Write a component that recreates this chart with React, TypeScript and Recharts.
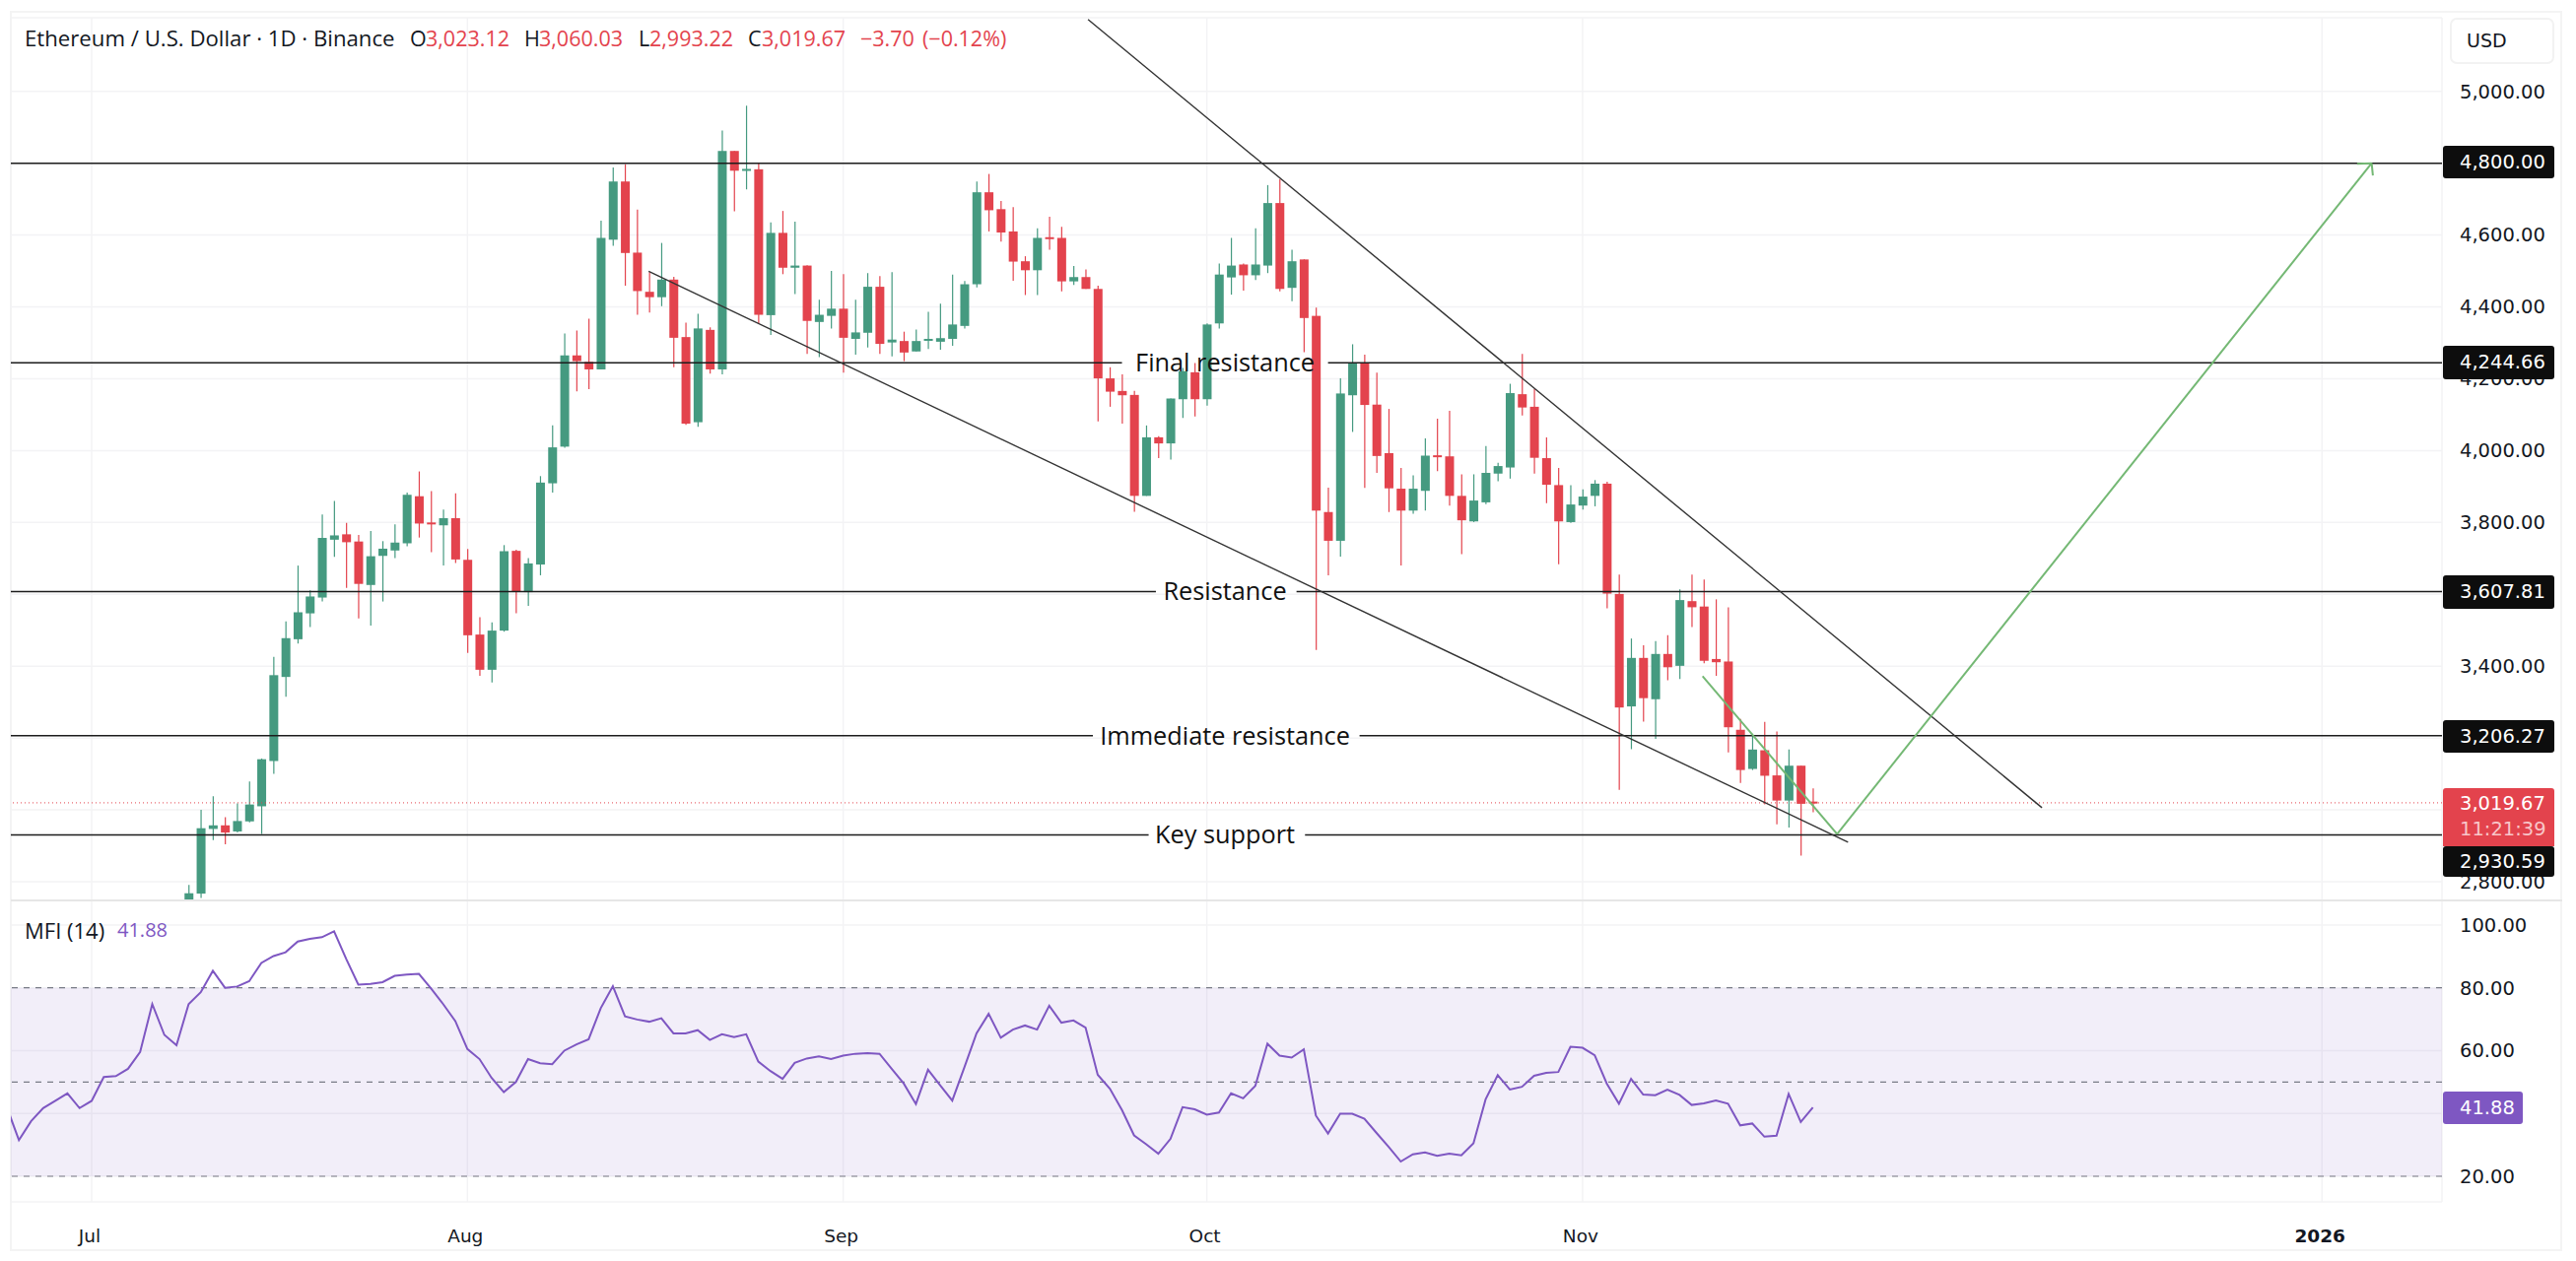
import {
  Bar,
  CartesianGrid,
  ComposedChart,
  Line,
  ReferenceArea,
  ReferenceDot,
  ReferenceLine,
  XAxis,
  YAxis,
} from "recharts";

// days are counted from Jul 1, one unit is one daily candle
const firstCandleDay = 8;
const opens = [
  2749, 2767, 2947, 2957, 2940, 2968, 3010, 3136, 3370, 3475, 3547, 3591, 3752, 3767, 3747, 3626, 3707, 3722, 3742, 3873,
  3800, 3792, 3812, 3696, 3488, 3390, 3499, 3721, 3606, 3683, 3909, 4011, 4265, 4247, 4226, 4587, 4749, 4551, 4442, 4427,
  4476, 4316, 4079, 4336, 4226, 4834, 4780, 4783, 4377, 4606, 4509, 4515, 4358, 4375, 4395, 4311, 4328, 4456, 4301, 4305,
  4276, 4307, 4303, 4311, 4347, 4463, 4719, 4672, 4610, 4527, 4502, 4594, 4592, 4471, 4483, 4450, 4201, 4166, 4155, 3874,
  4037, 4020, 4143, 4218, 4143, 4354, 4482, 4518, 4488, 4515, 4689, 4453, 4532, 4375, 3829, 3749, 4154, 4244, 4128, 3993,
  3894, 3833, 3888, 3987, 3984, 3874, 3803, 3856, 3936, 3953, 4157, 4122, 3979, 3904, 3801, 3847, 3874, 3908, 3601, 3288,
  3423, 3308, 3434, 3401, 3581, 3566, 3420, 3413, 3223, 3114, 3166, 3096, 3026, 3123, 3023.12,
];
const highs = [
  2791, 3000, 3038, 2980, 3018, 3079, 3143, 3426, 3525, 3680, 3611, 3822, 3860, 3799, 3765, 3776, 3748, 3795, 3883, 3942,
  3887, 3836, 3881, 3726, 3536, 3522, 3737, 3724, 3701, 3929, 4070, 4326, 4334, 4367, 4640, 4788, 4797, 4671, 4497, 4578,
  4484, 4356, 4381, 4343, 4891, 4834, 4960, 4802, 4635, 4667, 4637, 4516, 4420, 4500, 4491, 4420, 4494, 4486, 4497, 4331,
  4337, 4386, 4409, 4490, 4472, 4749, 4770, 4695, 4678, 4541, 4619, 4651, 4623, 4514, 4504, 4459, 4232, 4212, 4166, 4070,
  4040, 4145, 4230, 4244, 4354, 4521, 4592, 4521, 4619, 4739, 4756, 4559, 4532, 4398, 3897, 4201, 4296, 4267, 4217, 4116,
  3952, 3931, 4034, 4089, 4111, 3934, 3934, 4013, 3966, 4186, 4269, 4171, 4037, 3952, 3904, 3892, 3918, 3913, 3655, 3477,
  3458, 3470, 3486, 3614, 3655, 3641, 3586, 3564, 3253, 3212, 3245, 3218, 3168, 3123, 3060.03,
];
const lows = [
  2748, 2755, 2916, 2904, 2937, 2965, 2933, 3100, 3315, 3463, 3509, 3580, 3704, 3618, 3533, 3513, 3580, 3701, 3734, 3758,
  3717, 3680, 3687, 3437, 3373, 3355, 3496, 3547, 3568, 3653, 3883, 4008, 4165, 4171, 4226, 4570, 4459, 4378, 4384, 4402,
  4232, 4072, 4066, 4214, 4212, 4666, 4727, 4354, 4322, 4491, 4436, 4269, 4260, 4340, 4217, 4267, 4287, 4269, 4262, 4249,
  4276, 4283, 4281, 4292, 4340, 4454, 4610, 4582, 4473, 4433, 4433, 4559, 4443, 4461, 4450, 4081, 4122, 4075, 3830, 3874,
  3979, 3975, 4091, 4095, 4125, 4340, 4434, 4445, 4475, 4494, 4443, 4416, 4274, 3445, 3653, 3705, 4052, 3896, 3938, 3829,
  3680, 3824, 3833, 3943, 3847, 3712, 3801, 3851, 3915, 3922, 4098, 3936, 3854, 3684, 3799, 3836, 3845, 3561, 3056, 3169,
  3246, 3198, 3361, 3364, 3509, 3408, 3373, 3160, 3075, 3111, 3015, 2960, 2951, 2873, 2993.22,
];
const closes = [
  2768, 2949, 2957, 2937, 2969, 3015, 3141, 3375, 3478, 3550, 3594, 3757, 3764, 3745, 3629, 3706, 3727, 3744, 3877, 3797,
  3797, 3812, 3697, 3486, 3390, 3499, 3720, 3607, 3686, 3911, 4009, 4265, 4249, 4226, 4592, 4749, 4550, 4444, 4427, 4476,
  4314, 4075, 4340, 4226, 4834, 4779, 4784, 4378, 4606, 4509, 4515, 4361, 4378, 4395, 4314, 4329, 4456, 4297, 4309, 4273,
  4305, 4311, 4313, 4351, 4463, 4719, 4669, 4607, 4526, 4502, 4592, 4590, 4471, 4483, 4450, 4201, 4164, 4154, 3874, 4037,
  4020, 4145, 4221, 4143, 4351, 4490, 4515, 4488, 4518, 4689, 4450, 4527, 4369, 3833, 3749, 4159, 4244, 4127, 3985, 3895,
  3833, 3894, 3986, 3983, 3874, 3806, 3861, 3938, 3957, 4160, 4120, 3980, 3905, 3803, 3850, 3872, 3908, 3602, 3285, 3423,
  3311, 3434, 3397, 3584, 3564, 3415, 3411, 3230, 3111, 3168, 3095, 3026, 3123, 3017, 3019.67,
];

const firstMfiDay = -7;
const mfiValues = [
  42, 31.5, 37.5, 41.7, 44, 46.4, 41.7, 44, 51.6, 51.9, 54.2, 59.6, 74.8, 65, 61.7, 74.8, 78.6, 85.4, 80, 80.4, 82.1, 87.9,
  90.1, 91.3, 94.7, 95.6, 96.1, 98, 89.2, 81, 81.2, 81.8, 83.8, 84.2, 84.4, 79.8, 74.8, 69.4, 60.5, 57.3, 51.3, 46.8, 50,
  57.3, 56, 55.7, 60, 62, 63.6, 73.5, 80.5, 70.9, 69.9, 69.2, 70.3, 65.5, 65.5, 66.5, 63.4, 65.2, 64.3, 65.2, 56.5, 53.5,
  51, 56.1, 57.5, 58.2, 57.3, 58.4, 59, 59.2, 59, 54.2, 49.5, 43, 53.9, 49, 44.1, 54.7, 65.5, 71.7, 64.1, 66.7, 68, 66.7,
  74.3, 68.9, 69.6, 67.3, 52.3, 47.9, 41.1, 33, 30.2, 27.2, 31.9, 42, 41.3, 39.6, 40.3, 46.4, 44.8, 48.8, 62.2, 58.4, 57.8,
  60.4, 39.3, 33.6, 39.9, 39.9, 38.3, 33.8, 29.4, 24.7, 27, 27.6, 26.5, 27.2, 26.7, 30.5, 44.5, 52.2, 47.6, 48.5, 52, 52.9,
  53.2, 61.2, 60.9, 58.5, 49.5, 43.1, 51, 46, 45.8, 47.6, 45.9, 42.7, 43.2, 44.1, 43.1, 36.2, 36.8, 32.6, 32.9, 46.2, 37.3,
  41.88,
];

const tickDays = [0, 31, 62, 92, 123, 184];
const tickLabels = ["Jul", "Aug", "Sep", "Oct", "Nov", "2026"];
const priceTicks = [2800, 3000, 3200, 3400, 3600, 3800, 4000, 4200, 4400, 4600, 4800, 5000];
const coveredPriceTicks = [3000, 3200, 3600, 4800];
const mfiTicks = [20, 40, 60, 80, 100];
const coveredMfiTicks = [40];
const mfiBands = [80, 50, 20];

const levelValues = [4800, 4244.66, 3607.81, 3206.27, 2930.59];
const levelLabels = ["", "Final resistance", "Resistance", "Immediate resistance", "Key support"];
const levelGapFrom = [0, 85, 87.8, 82.6, 87.2];
const levelGapTo = [0, 102, 99.4, 104.6, 100.1];
const labelDay = 93.5;
const lastPrice = 3019.67;

// drawings as [day, price] pairs
const upperTrend = [[82.2, 5200], [160.9, 3006]];
const lowerTrend = [[45.95, 4499], [144.9, 2910]];
const pathDown = [[132.9, 3372], [144, 2933]];
const pathUp = [[144, 2933], [188.1, 4800]];
const arrowLeft = [[186.9, 4798], [188.1, 4800]];
const arrowRight = [[188.2, 4766], [188.1, 4800]];

const dayMin = -6.667;
const dayMax = 193.9;
const priceDomain = [2748, 5204.8];
const mfiDomain = [11.85, 107.8];

const candleRows = opens.map((open, i) => ({
  day: firstCandleDay + i,
  open,
  high: highs[i],
  low: lows[i],
  close: closes[i],
  range: [lows[i], highs[i]],
}));
const mfiRows = mfiValues.map((mfi, i) => ({ day: firstMfiDay + i, mfi }));

const GREEN = "#459a80";
const RED = "#e3434d";
const PURPLE = "#7e57c2";
const GRID = "#f3f3f5";
const INK = "#131722";
const LINE = "#1c1c1c";
const DRAW_GREEN = "#74b874";
const axisFont = "DejaVu Sans";
const textFont = "Open Sans";

function Candle(props: any) {
  const { x, y, width, height, payload } = props;
  const { open, high, low, close } = payload;
  const color = close >= open ? GREEN : RED;
  const k = height / (high - low);
  const cx = x + width / 2;
  const top = y + (high - Math.max(open, close)) * k;
  const bodyH = Math.max(Math.abs(open - close) * k, 2);
  return (
    <g>
      <line x1={cx} x2={cx} y1={y} y2={y + height} stroke={color} strokeWidth={1.2} />
      <rect x={x} y={top} width={width} height={bodyH} fill={color} />
    </g>
  );
}

function TimeTick(props: any) {
  const { x, y, payload } = props;
  const label = tickLabels[tickDays.indexOf(payload.value)];
  return (
    <text
      x={x - 2}
      y={y + 26}
      textAnchor="middle"
      dominantBaseline="central"
      fontFamily={axisFont}
      fontSize={18.5}
      fontWeight={label === "2026" ? 700 : 400}
      fill={INK}
    >
      {label}
    </text>
  );
}

function seg(pair: number[][]) {
  return [
    { x: pair[0][0], y: pair[0][1] },
    { x: pair[1][0], y: pair[1][1] },
  ] as any;
}

const money = (v: number) =>
  v.toLocaleString("en-US", { minimumFractionDigits: 2, maximumFractionDigits: 2 });

function Badge({ top, height, text, bg, width = 113 }: any) {
  return (
    <div
      style={{
        position: "absolute",
        left: 2479,
        top,
        width,
        height,
        background: bg,
        borderRadius: 3,
        color: "#fff",
        fontFamily: axisFont,
        fontSize: 19.5,
        lineHeight: `${height}px`,
        paddingLeft: 17,
        boxSizing: "border-box",
      }}
    >
      {text}
    </div>
  );
}

function Head({ left, top = 26, color = INK, size = 21.5, children }: any) {
  return (
    <span
      style={{
        position: "absolute",
        left,
        top,
        color,
        fontFamily: textFont,
        fontSize: size,
        lineHeight: "26px",
        whiteSpace: "nowrap",
      }}
    >
      {children}
    </span>
  );
}

export default function App() {
  return (
    <div
      style={{
        position: "absolute",
        left: 0,
        top: 0,
        width: 2614,
        height: 1280,
        background: "#fff",
        overflow: "hidden",
      }}
    >
      <div
        style={{
          position: "absolute",
          left: 10,
          top: 11,
          width: 2590,
          height: 1259,
          border: "2px solid #f4f4f4",
          boxSizing: "border-box",
        }}
      />

      <div style={{ position: "absolute", left: 0, top: 0 }}>
        <ComposedChart
          width={2614}
          height={914}
          data={candleRows}
          margin={{ top: 18, right: 0, bottom: 0, left: 11 }}
        >
          <CartesianGrid stroke={GRID} strokeWidth={1.5} />
          <XAxis
            type="number"
            dataKey="day"
            domain={[dayMin, dayMax]}
            ticks={tickDays}
            allowDataOverflow
            hide
          />
          <YAxis
            orientation="right"
            width={136}
            domain={priceDomain}
            ticks={priceTicks}
            interval={0}
            allowDataOverflow
            axisLine={false}
            tickLine={false}
            tickSize={0}
            tickMargin={18}
            tick={{ fontSize: 19.5, fontFamily: axisFont, fill: INK }}
            tickFormatter={(v: number) => (coveredPriceTicks.includes(v) ? "" : money(v))}
          />
          <Bar dataKey="range" barSize={9} shape={<Candle />} isAnimationActive={false} />
          <ReferenceLine y={lastPrice} stroke={RED} strokeDasharray="1 3" strokeWidth={1} />
          {levelValues.map((level, i) =>
            levelLabels[i] ? (
              [
                <ReferenceLine
                  key={`a${i}`}
                  stroke={LINE}
                  strokeWidth={1.5}
                  segment={[{ x: dayMin, y: level }, { x: levelGapFrom[i], y: level }]}
                />,
                <ReferenceLine
                  key={`b${i}`}
                  stroke={LINE}
                  strokeWidth={1.5}
                  segment={[{ x: levelGapTo[i], y: level }, { x: dayMax, y: level }]}
                />,
                <ReferenceDot
                  key={`c${i}`}
                  x={labelDay}
                  y={level}
                  r={0}
                  fill="none"
                  stroke="none"
                  label={{
                    value: levelLabels[i],
                    position: "center",
                    fill: "#111",
                    fontSize: 25.3,
                    fontFamily: textFont,
                  }}
                />,
              ]
            ) : (
              <ReferenceLine key={`a${i}`} y={level} stroke={LINE} strokeWidth={1.5} />
            )
          )}
          <ReferenceLine segment={seg(upperTrend)} stroke="#333" strokeWidth={1.4} />
          <ReferenceLine segment={seg(lowerTrend)} stroke="#333" strokeWidth={1.4} />
          <ReferenceLine segment={seg(pathDown)} stroke={DRAW_GREEN} strokeWidth={2} />
          <ReferenceLine segment={seg(pathUp)} stroke={DRAW_GREEN} strokeWidth={2} />
          <ReferenceLine segment={seg(arrowLeft)} stroke={DRAW_GREEN} strokeWidth={2} />
          <ReferenceLine segment={seg(arrowRight)} stroke={DRAW_GREEN} strokeWidth={2} />
        </ComposedChart>
      </div>

      <div style={{ position: "absolute", left: 0, top: 914 }}>
        <ComposedChart
          width={2614}
          height={356}
          data={mfiRows}
          margin={{ top: 0, right: 0, bottom: 0, left: 11 }}
        >
          <CartesianGrid stroke={GRID} strokeWidth={1.5} />
          <ReferenceArea y1={20} y2={80} fill={PURPLE} fillOpacity={0.1} stroke="none" />
          <XAxis
            type="number"
            dataKey="day"
            domain={[dayMin, dayMax]}
            ticks={tickDays}
            interval={0}
            height={50}
            allowDataOverflow
            axisLine={false}
            tickLine={false}
            tick={<TimeTick />}
          />
          <YAxis
            orientation="right"
            width={136}
            domain={mfiDomain}
            ticks={mfiTicks}
            interval={0}
            allowDataOverflow
            axisLine={false}
            tickLine={false}
            tickSize={0}
            tickMargin={18}
            tick={{ fontSize: 19.5, fontFamily: axisFont, fill: INK }}
            tickFormatter={(v: number) => (coveredMfiTicks.includes(v) ? "" : v.toFixed(2))}
          />
          {mfiBands.map((b) => (
            <ReferenceLine key={b} y={b} stroke="#787b86" strokeDasharray="6 6" strokeWidth={1.2} />
          ))}
          <Line dataKey="mfi" stroke={PURPLE} strokeWidth={2} dot={false} isAnimationActive={false} />
        </ComposedChart>
      </div>

      <div style={{ position: "absolute", left: 11, top: 913, width: 2589, height: 2, background: "#e6e6e6" }} />

      <Head left={25} size={22.2}>Ethereum / U.S. Dollar · 1D · Binance</Head>
      <Head left={416}>O</Head>
      <Head left={432} color={RED}>3,023.12</Head>
      <Head left={532}>H</Head>
      <Head left={547} color={RED}>3,060.03</Head>
      <Head left={648}>L</Head>
      <Head left={659} color={RED}>2,993.22</Head>
      <Head left={759}>C</Head>
      <Head left={773} color={RED}>3,019.67</Head>
      <Head left={873} color={RED}>−3.70</Head>
      <Head left={936} color={RED}>(−0.12%)</Head>
      <Head left={25} top={931} size={22}>MFI (14)</Head>
      <Head left={119} top={931} size={20} color={PURPLE}>41.88</Head>

      <div
        style={{
          position: "absolute",
          left: 2486,
          top: 18,
          width: 106,
          height: 47,
          border: "2px solid #f2f2f2",
          borderRadius: 7,
          boxSizing: "border-box",
          background: "#fff",
          color: INK,
          fontFamily: axisFont,
          fontSize: 19,
          lineHeight: "43px",
          paddingLeft: 15,
        }}
      >
        USD
      </div>

      <Badge top={148} height={33} text={money(4800)} bg="#0d0d0d" />
      <Badge top={351} height={34} text={money(4244.66)} bg="#0d0d0d" />
      <Badge top={584} height={34} text={money(3607.81)} bg="#0d0d0d" />
      <Badge top={731} height={33} text={money(3206.27)} bg="#0d0d0d" />
      <Badge top={859} height={31} text={money(2930.59)} bg="#0d0d0d" />
      <div
        style={{
          position: "absolute",
          left: 2479,
          top: 800,
          width: 113,
          height: 59,
          background: RED,
          borderRadius: "3px 3px 0 0",
          fontFamily: axisFont,
          fontSize: 19.5,
          lineHeight: "26px",
          paddingLeft: 17,
          paddingTop: 3,
          boxSizing: "border-box",
          color: "#fff",
        }}
      >
        {money(lastPrice)}
        <div style={{ color: "#f8c6c9" }}>11:21:39</div>
      </div>
      <Badge top={1108} height={33} width={81} text="41.88" bg={PURPLE} />
    </div>
  );
}
